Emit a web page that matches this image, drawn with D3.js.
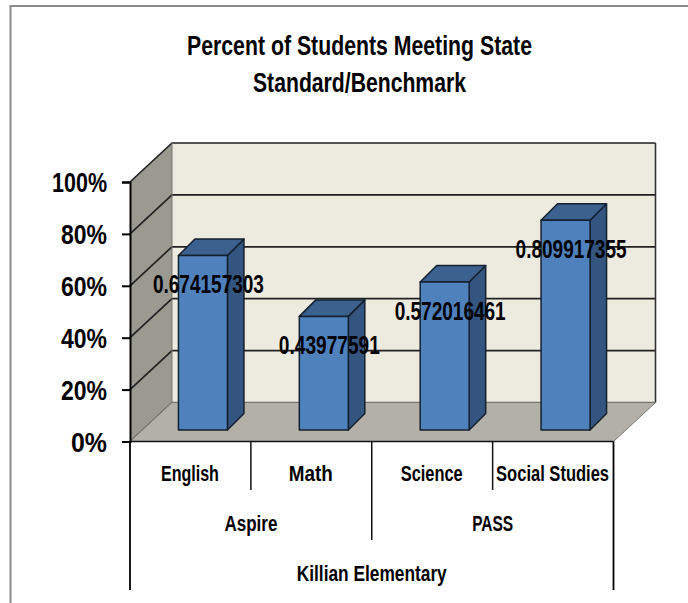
<!DOCTYPE html>
<html>
<head>
<meta charset="utf-8">
<script src="https://cdn.jsdelivr.net/npm/d3@7"></script>
<style>
  html, body { margin: 0; padding: 0; background: #fff; }
  svg { display: block; }
  text { font-family: "Liberation Sans Narrow", "Liberation Sans", sans-serif; fill: #000; }
</style>
</head>
<body>
<svg id="chart" width="688" height="603"></svg>
<script>
var categories = ["English", "Math", "Science", "Social Studies"];
var groups = ["Aspire", "PASS"];
var school = ["Killian Elementary"];
var values = [0.674157303, 0.43977591, 0.572016461, 0.809917355];
var valueLabels = ["0.674157303", "0.43977591", "0.572016461", "0.809917355"];
var yTicks = [0, 0.2, 0.4, 0.6, 0.8, 1];
var titleLines = ["Percent of Students Meeting State", "Standard/Benchmark"];

var svg = d3.select("#chart");

var left = 130, right = 613.5, top0 = 182, bottom = 441.5;
var depthX = 42, depthY = 39;     // wall/floor depth
var barDX = 16.5, barDY = 16.5;   // bar depth
var barLift = 11.5, barShift = 12.5, barW = 49;

var x = d3.scaleBand().domain(categories).range([left, right]);
var y = d3.scaleLinear().domain([0, 1]).range([bottom, top0]);

function poly(pts) { return pts.map(function (p) { return p.join(","); }).join(" "); }

// outer frame, only top and left show
svg.append("path")
  .attr("d", "M10.5,603V6H688")
  .attr("fill", "none")
  .attr("stroke", "#8a8a8a")
  .attr("stroke-width", 2);

// title
svg.selectAll(".title")
  .data(titleLines)
  .enter()
  .append("text")
  .attr("class", "title")
  .attr("x", 359.5)
  .attr("y", function (d, i) { return 55 + i * 37; })
  .attr("text-anchor", "middle")
  .attr("font-size", 27)
  .attr("font-weight", "bold")
  .attr("textLength", function (d, i) { return [345, 213][i]; })
  .attr("lengthAdjust", "spacingAndGlyphs")
  .text(function (d) { return d; });

// walls
svg.append("polygon")
  .attr("points", poly([[left + depthX, y(1) - depthY], [right + depthX, y(1) - depthY],
    [right + depthX, y(0) - depthY], [left + depthX, y(0) - depthY]]))
  .attr("fill", "#edebe0");

svg.append("polygon")
  .attr("points", poly([[left, y(1)], [left + depthX, y(1) - depthY],
    [left + depthX, y(0) - depthY], [left, y(0)]]))
  .attr("fill", "#9b9a91");

// gridlines along side and back wall
svg.selectAll(".grid")
  .data(yTicks)
  .enter()
  .append("polyline")
  .attr("class", "grid")
  .attr("fill", "none")
  .attr("stroke", function (d) { return d === 0 ? "#6f6e66" : "#222"; })
  .attr("stroke-width", 1.7)
  .attr("points", function (d) {
    return poly([[left, y(d)], [left + depthX, y(d) - depthY], [right + depthX, y(d) - depthY]]);
  });

// right edge of back wall
svg.append("line")
  .attr("x1", right + depthX).attr("x2", right + depthX)
  .attr("y1", y(1) - depthY).attr("y2", y(0) - depthY)
  .attr("stroke", "#333").attr("stroke-width", 1.6);

svg.append("line")
  .attr("x1", left + depthX).attr("x2", left + depthX)
  .attr("y1", y(1) - depthY).attr("y2", y(0) - depthY)
  .attr("stroke", "#77766e").attr("stroke-width", 1);

// floor
svg.append("polygon")
  .attr("points", poly([[left, y(0)], [left + depthX, y(0) - depthY],
    [right + depthX, y(0) - depthY], [right, y(0)]]))
  .attr("fill", "#b3b0a8")
  .attr("stroke", "#77766e")
  .attr("stroke-width", 1);

// bars
var bar = svg.selectAll(".bar")
  .data(values)
  .enter()
  .append("g")
  .attr("class", "bar")
  .attr("stroke", "#14202e")
  .attr("stroke-width", 1.5)
  .attr("stroke-linejoin", "round");

function barX(d, i) { return x(categories[i]) + x.bandwidth() / 2 + barShift - barW / 2; }
function barTop(d) { return y(d) - barLift + 0.5; }

bar.append("polygon")
  .attr("fill", "#34557f")
  .attr("points", function (d, i) {
    var x1 = barX(d, i) + barW, t = barTop(d), b = y(0) - barLift;
    return poly([[x1, t], [x1 + barDX, t - barDY], [x1 + barDX, b - barDY], [x1, b]]);
  });

bar.append("polygon")
  .attr("fill", "#3c618f")
  .attr("points", function (d, i) {
    var x0 = barX(d, i), t = barTop(d);
    return poly([[x0, t], [x0 + barDX, t - barDY], [x0 + barW + barDX, t - barDY], [x0 + barW, t]]);
  });

bar.append("rect")
  .attr("fill", "#4f81bd")
  .attr("x", barX)
  .attr("y", barTop)
  .attr("width", barW)
  .attr("height", function (d) { return y(0) - barLift - barTop(d); });

// data labels
svg.selectAll(".value")
  .data(values)
  .enter()
  .append("text")
  .attr("class", "value")
  .attr("x", function (d, i) { return barX(d, i) + barW / 2 + 5.5; })
  .attr("y", function (d) { return barTop(d) + 37.5; })
  .attr("text-anchor", "middle")
  .attr("font-size", 25)
  .attr("font-weight", "bold")
  .attr("textLength", function (d, i) { return i === 1 ? 101 : 111; })
  .attr("lengthAdjust", "spacingAndGlyphs")
  .text(function (d, i) { return valueLabels[i]; });

// y axis
var yAxis = svg.append("g")
  .attr("transform", "translate(" + left + ",0)")
  .call(d3.axisLeft(y).tickValues(yTicks).tickFormat(d3.format(".0%")).tickSize(8).tickPadding(15));
yAxis.select(".domain").attr("stroke", "#000").attr("stroke-width", 2);
yAxis.selectAll(".tick line").attr("stroke", "#000").attr("stroke-width", 2);
yAxis.selectAll(".tick text")
  .attr("font-family", null)
  .attr("font-size", 27)
  .attr("font-weight", "bold")
  .attr("dy", "0.36em")
  .attr("textLength", function (d) { return d === 1 ? 55 : d === 0 ? 36 : 46; })
  .attr("lengthAdjust", "spacingAndGlyphs")
  .style("font-family", "'Liberation Sans Narrow','Liberation Sans',sans-serif");

// multi level category axis
svg.append("line")
  .attr("x1", left).attr("x2", right)
  .attr("y1", y(0)).attr("y2", y(0))
  .attr("stroke", "#111").attr("stroke-width", 1.6);

var sepBottoms = [490, 540, 490];
svg.selectAll(".sep")
  .data(sepBottoms)
  .enter()
  .append("line")
  .attr("class", "sep")
  .attr("x1", function (d, i) { return x(categories[i + 1]); })
  .attr("x2", function (d, i) { return x(categories[i + 1]); })
  .attr("y1", y(0))
  .attr("y2", function (d) { return d; })
  .attr("stroke", "#111")
  .attr("stroke-width", 1.5);

svg.selectAll(".edge")
  .data([left, right])
  .enter()
  .append("line")
  .attr("class", "edge")
  .attr("x1", function (d) { return d; })
  .attr("x2", function (d) { return d; })
  .attr("y1", y(0))
  .attr("y2", 590)
  .attr("stroke", "#000")
  .attr("stroke-width", 1.8);

var catWidths = [58, 44, 62, 113];
svg.selectAll(".cat")
  .data(categories)
  .enter()
  .append("text")
  .attr("class", "cat")
  .attr("x", function (d) { return x(d) + x.bandwidth() / 2 - 0.5; })
  .attr("y", 481)
  .attr("text-anchor", "middle")
  .attr("font-size", 22)
  .attr("font-weight", "bold")
  .attr("textLength", function (d, i) { return catWidths[i]; })
  .attr("lengthAdjust", "spacingAndGlyphs")
  .text(function (d) { return d; });

var groupWidths = [53, 41];
svg.selectAll(".group")
  .data(groups)
  .enter()
  .append("text")
  .attr("class", "group")
  .attr("x", function (d, i) { return x(categories[i * 2 + 1]); })
  .attr("y", 531)
  .attr("text-anchor", "middle")
  .attr("font-size", 22)
  .attr("font-weight", "bold")
  .attr("textLength", function (d, i) { return groupWidths[i]; })
  .attr("lengthAdjust", "spacingAndGlyphs")
  .text(function (d) { return d; });

svg.append("text")
  .attr("x", (left + right) / 2)
  .attr("y", 581)
  .attr("text-anchor", "middle")
  .attr("font-size", 22)
  .attr("font-weight", "bold")
  .attr("textLength", 150)
  .attr("lengthAdjust", "spacingAndGlyphs")
  .text(school[0]);
</script>
</body>
</html>
